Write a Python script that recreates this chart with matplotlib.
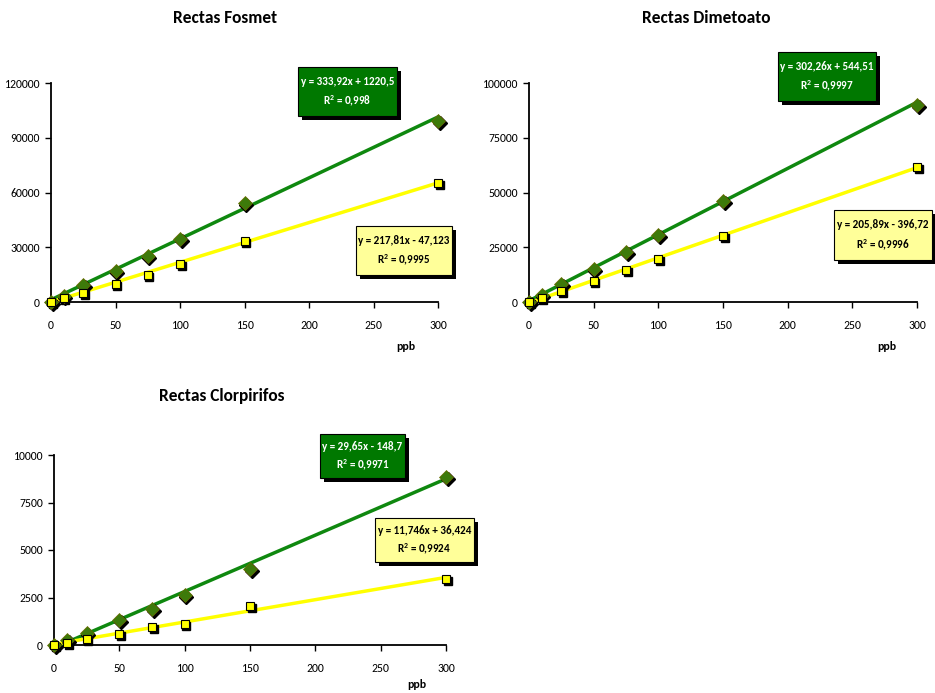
import matplotlib
matplotlib.use("Agg")
import matplotlib.pyplot as plt
import matplotlib.transforms as mtransforms
import numpy as np

plt.rcParams['font.family'] = ['Carlito', 'DejaVu Sans']
plt.rcParams['mathtext.fontset'] = 'custom'
plt.rcParams['mathtext.rm'] = 'Carlito'
plt.rcParams['mathtext.bf'] = 'Carlito:bold'

x_ppb = [0, 10, 25, 50, 75, 100, 150, 300]

fosmet_green = [0, 3500, 9500, 17000, 25000, 34500, 54500, 99000]
fosmet_yellow = [0, 2000, 5000, 10000, 15000, 21000, 33500, 65000]
dimet_green = [0, 3000, 8000, 15000, 23000, 30500, 46000, 90000]
dimet_yellow = [0, 2000, 5000, 9500, 14500, 19500, 30000, 61500]
clor_green = [0, 250, 650, 1300, 1900, 2650, 4000, 8850]
clor_yellow = [0, 100, 300, 600, 950, 1100, 2050, 3450]

fosmet_fit_green = (333.92, 1220.5)
fosmet_fit_yellow = (217.81, -47.123)
dimet_fit_green = (302.26, 544.51)
dimet_fit_yellow = (205.89, -396.72)
clor_fit_green = (29.65, -148.7)
clor_fit_yellow = (11.746, 36.424)

fosmet_eq = ("y = 333,92x + 1220,5", "R$\\mathbf{^2}$ = 0,998", "y = 217,81x - 47,123", "R$\\mathbf{^2}$ = 0,9995")
dimet_eq = ("y = 302,26x + 544,51", "R$\\mathbf{^2}$ = 0,9997", "y = 205,89x - 396,72", "R$\\mathbf{^2}$ = 0,9996")
clor_eq = ("y = 29,65x - 148,7", "R$\\mathbf{^2}$ = 0,9971", "y = 11,746x + 36,424", "R$\\mathbf{^2}$ = 0,9924")

titles = ["Rectas Fosmet", "Rectas Dimetoato", "Rectas Clorpirifos"]
yticks_list = [[0, 30000, 60000, 90000, 120000],
               [0, 25000, 50000, 75000, 100000],
               [0, 2500, 5000, 7500, 10000]]
xticks = [0, 50, 100, 150, 200, 250, 300]

W, H = 935, 693
fig = plt.figure(figsize=(W / 100, H / 100), dpi=100)

def px_rect(l, r, t, b):
    return [l / W, 1 - b / H, (r - l) / W, (b - t) / H]

axes_px = [(51, 438, 83, 302), (529, 917, 83, 302), (54, 446, 455, 645)]
green_boxes = [(298, 397, 67, 116), (778, 876, 52, 101), (320, 405, 434, 478)]
yellow_boxes = [(356, 452, 226, 275), (834, 932, 210, 260), (375, 474, 518, 562)]
title_pos = [(225, 18), (706, 18), (222, 396)]
ppb_pos = [(406, 346), (887, 346), (417, 685)]

datasets = [(fosmet_green, fosmet_yellow, fosmet_fit_green, fosmet_fit_yellow, fosmet_eq),
            (dimet_green, dimet_yellow, dimet_fit_green, dimet_fit_yellow, dimet_eq),
            (clor_green, clor_yellow, clor_fit_green, clor_fit_yellow, clor_eq)]

LINE_GREEN = '#0F880F'
MARK_GREEN = '#3D7A0A'
BOX_GREEN = '#007800'

def box(l, r, t, b, face, lines, tcolor):
    fig.patches.append(plt.Rectangle(((l + 4) / W, 1 - (b + 4) / H), (r - l) / W, (b - t) / H,
                                     transform=fig.transFigure, facecolor='black', edgecolor='none', zorder=5))
    fig.patches.append(plt.Rectangle((l / W, 1 - b / H), (r - l) / W, (b - t) / H,
                                     transform=fig.transFigure, facecolor=face, edgecolor='black',
                                     linewidth=0.8, zorder=6))
    cx = (l + r) / 2 / W
    h = b - t
    fig.text(cx, 1 - (t + h * 0.29) / H, lines[0], ha='center', va='center', color=tcolor,
             fontsize=8, fontweight='bold', zorder=7)
    fig.text(cx, 1 - (t + h * 0.71) / H, lines[1], ha='center', va='center', color=tcolor,
             fontsize=8, fontweight='bold', zorder=7)

for i, (g, y, fg, fy, eq) in enumerate(datasets):
    ax = fig.add_axes(px_rect(*axes_px[i]))
    ax.set_xlim(0, 300)
    ax.set_ylim(0, yticks_list[i][-1])
    ax.set_xticks(xticks)
    ax.set_yticks(yticks_list[i])
    ax.tick_params(direction='out', length=4, width=1, labelsize=8.5)
    ax.tick_params(axis='x', pad=9)
    ax.tick_params(axis='y', pad=4)
    for s in ['top', 'right']:
        ax.spines[s].set_visible(False)
    for s in ['left', 'bottom']:
        ax.spines[s].set_linewidth(1.3)
    xs = np.array([0, 300])
    ax.plot(xs, fg[0] * xs + fg[1], color=LINE_GREEN, lw=2.5, zorder=3, clip_on=False)
    ax.plot(xs, fy[0] * xs + fy[1], color='#FFFF00', lw=2.5, zorder=3, clip_on=False)
    sh = mtransforms.offset_copy(ax.transData, fig=fig, x=1.5, y=-2, units='dots')
    ax.plot(x_ppb, g, 'D', ms=7.5, color='black', transform=sh, zorder=4, clip_on=False, ls='none')
    ax.plot(x_ppb, g, 'D', ms=7.5, mfc=MARK_GREEN, mec='#6B6B00', mew=0.5, zorder=5, clip_on=False, ls='none')
    ax.plot(x_ppb, y, 's', ms=6, color='black', transform=sh, zorder=4, clip_on=False, ls='none')
    ax.plot(x_ppb, y, 's', ms=6, mfc='#FFFF00', mec='black', mew=0.8, zorder=5, clip_on=False, ls='none')
    fig.text(title_pos[i][0] / W, 1 - title_pos[i][1] / H, titles[i], ha='center', va='center',
             fontsize=12.5, fontweight='bold')
    fig.text(ppb_pos[i][0] / W, 1 - ppb_pos[i][1] / H, 'ppb', ha='center', va='center',
             fontsize=8.5, fontweight='bold')
    box(*green_boxes[i], BOX_GREEN, eq[0:2], 'white')
    box(*yellow_boxes[i], '#FFFF99', eq[2:4], 'black')

fig.savefig('out.png', dpi=100)
